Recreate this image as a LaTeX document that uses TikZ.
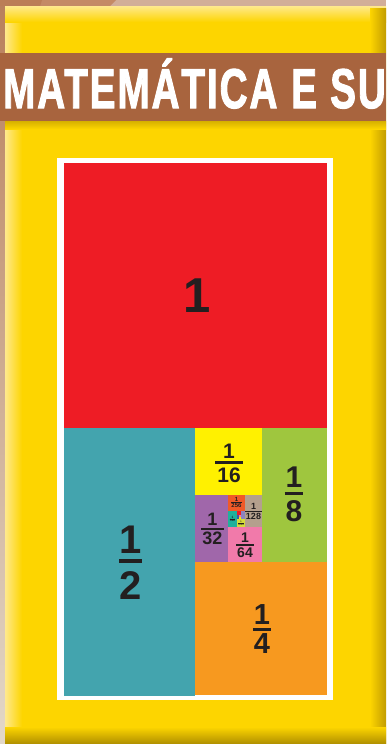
\documentclass[tikz,border=0pt]{standalone}
\usepackage{fontspec}
\usepackage{graphicx}
\setmainfont{Liberation Sans}
\newfontfamily\bannerfont{Liberation Sans}[FakeBold=2.2,LetterSpace=5]
\definecolor{bgtan}{HTML}{D2AE98}
\definecolor{brownA}{HTML}{BB7D57}
\definecolor{brownB}{HTML}{C48A66}
\definecolor{leftTop}{HTML}{B9805C}
\definecolor{leftBot}{HTML}{E3D8C8}
\definecolor{panel}{HTML}{FDD500}
\definecolor{panelHi}{HTML}{FFE98C}
\definecolor{panelDk}{HTML}{C29C00}
\definecolor{panelDkB}{HTML}{AE8E00}
\definecolor{shadowY}{HTML}{D6B000}
\definecolor{banner}{HTML}{A8643E}
\definecolor{ink}{HTML}{231F20}
\definecolor{cRed}{HTML}{EE1C25}
\definecolor{cTeal}{HTML}{43A4AE}
\definecolor{cYellow}{HTML}{FFF100}
\definecolor{cGreen}{HTML}{9FC63E}
\definecolor{cOrange}{HTML}{F7991F}
\definecolor{cPurple}{HTML}{A067AA}
\definecolor{cPink}{HTML}{F17AAA}
\definecolor{cBeige}{HTML}{B4A08D}
\definecolor{cRedOr}{HTML}{F05A28}
\definecolor{cTealB}{HTML}{20B09C}
\definecolor{cYG}{HTML}{D5DC3A}
\definecolor{cLav}{HTML}{8B84C0}
\definecolor{cBlue}{HTML}{3A5BA8}
% fraction: #1 size, #2 num, #3 den, #4 bar thickness, #5 gap above, #6 gap below, #7 side pad
\newcommand\myfr[7]{{\fontsize{#1}{#1}\selectfont\bfseries
  \vbox{\offinterlineskip\halign{\hfil\kern#7##\kern#7\hfil\cr
  #2\cr\noalign{\kern#5\hrule height #4\kern#6}#3\cr}}}}
\tikzset{
  frac/.style={inner sep=0pt, text=ink, anchor=center},
  titletext/.style={anchor=base west, inner sep=0pt, text=white,
    font=\bannerfont\fontsize{56}{56}\selectfont\bfseries},
}
\begin{document}
\begin{tikzpicture}[x=1pt,y=-1pt]
\useasboundingbox (0,0) rectangle (386,744);
\clip (0,0) rectangle (386,744);
% background
\fill[bgtan] (0,0) rectangle (386,744);
\fill[brownB] (0,0) -- (116,0) -- (110,6) -- (0,6) -- cycle;
\fill[brownA] (0,0) -- (42,0) -- (40,6) -- (0,6) -- cycle;
\shade[top color=leftTop, bottom color=leftBot] (0,6) rectangle (5,744);
% panel
\fill[panel] (5,6) rectangle (386,744);
\shade[left color=panelHi, right color=panel] (5,6) rectangle (22,728);
\shade[top color=panelHi, bottom color=panel] (5,6) rectangle (386,22);
\shade[left color=panel, right color=panelDk] (370,8) rectangle (386,744);
\shade[top color=panel, bottom color=panelDkB] (5,727) rectangle (386,744);
% banner
\shade[top color=shadowY, bottom color=panel] (5,121) rectangle (386,129);
\fill[banner] (0,53) rectangle (386,121);
\node[titletext] (titleA) at (3,108) {\scalebox{0.69}[1]{MATEMÁTICA}};
\node[titletext] (titleB) at (291,108) {\scalebox{0.69}[1]{E}};
\node[titletext] (titleC) at (330,108) {\scalebox{0.69}[1]{SU}};
% frame
\fill[white] (57,158) rectangle (333,700);
% regions
\fill[cRed] (64,163) rectangle (327,428);
\fill[cTeal] (64,428) rectangle (195,696);
\fill[cOrange] (195,562) rectangle (327,695);
\fill[cGreen] (262,428) rectangle (327,562);
\fill[cYellow] (195,428) rectangle (262,495);
\fill[cPurple] (195,495) rectangle (228,562);
\fill[cPink] (228,527) rectangle (262,562);
\fill[cBeige] (245,495) rectangle (262,527);
\fill[cRedOr] (228,495) rectangle (245,511);
\fill[cTealB] (228,511) rectangle (237,527);
\fill[cYG] (237,519) rectangle (245,527);
\fill[cLav] (241,511) rectangle (245,519);
\fill[cRed] (237,511) rectangle (241,515);
\fill[cBlue] (237,515) rectangle (239,519);
\fill[cYellow] (239,517) rectangle (241,519);
\fill[cPink] (239,515) rectangle (241,517);
% labels
\node[frac, font=\bfseries\fontsize{49}{49}\selectfont] (one) at (197,296) {1};
\node[frac] (half) at (130.5,562.5) {\myfr{40}{1}{2}{4pt}{6pt}{8pt}{0pt}};
\node[frac] (quarter) at (262,629) {\myfr{29}{1}{4}{3pt}{4pt}{3pt}{1pt}};
\node[frac] (eighth) at (294,494) {\myfr{30}{1}{8}{3pt}{5pt}{5pt}{1pt}};
\node[frac] (sixteenth) at (229,463) {\myfr{21}{1}{16}{2.5pt}{3pt}{4pt}{2pt}};
\node[frac] (thirtysecond) at (212.5,529) {\myfr{18}{1}{32}{2pt}{2pt}{2pt}{1pt}};
\node[frac] (sixtyfourth) at (245,545) {\myfr{14}{1}{64}{1.8pt}{1.5pt}{1.5pt}{1pt}};
\node[frac] (d128) at (253.5,511.5) {\myfr{9}{1}{128}{1pt}{1pt}{1pt}{0.5pt}};
\node[frac] (d256) at (236.5,502.5) {\myfr{6}{1}{256}{0.7pt}{0.6pt}{0.6pt}{0.3pt}};
\node[frac] (d512) at (232.5,519) {\myfr{3.2}{1}{512}{0.4pt}{0.4pt}{0.4pt}{0.2pt}};
\node[frac] (d1024) at (241,523) {\myfr{2.3}{1}{1024}{0.3pt}{0.3pt}{0.3pt}{0.1pt}};
\end{tikzpicture}
\end{document}
